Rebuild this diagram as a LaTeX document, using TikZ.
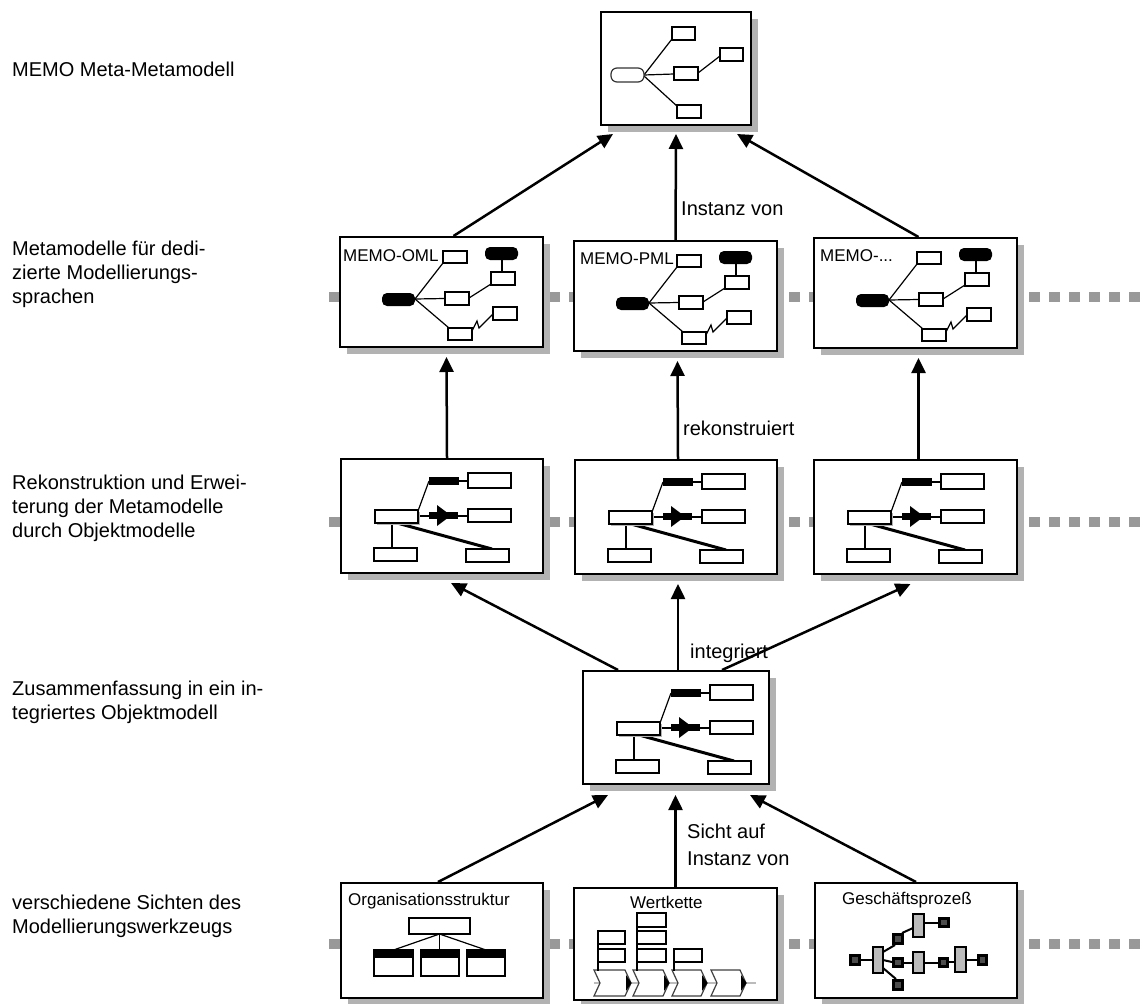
\documentclass[tikz,border=0pt]{standalone}
\usepackage{fontspec}
\setmainfont{Liberation Sans}
\usetikzlibrary{arrows.meta,shadows,calc}
\definecolor{shadowgrey}{HTML}{B2B2B2}
\definecolor{lanegrey}{HTML}{999999}
\definecolor{stepgrey}{HTML}{BBBBBB}

\tikzset{
  panel/.style={draw=black, line width=2pt, fill=white, rectangle, inner sep=0pt, anchor=north west,
    drop shadow={shadow xshift=7pt, shadow yshift=-7pt, fill=shadowgrey, opacity=1}},
  flow/.style={line width=2.5pt, -{Triangle[length=15pt,width=14pt]}},
  lane/.style={line width=10pt, draw=lanegrey, dash pattern=on 11pt off 9pt},
  sidetext/.style={font=\fontsize{20}{24}\selectfont, anchor=base west, inner sep=0pt},
  boxtitle/.style={font=\fontsize{17}{20}\selectfont, anchor=base west, inner sep=0pt},
  cell/.style={draw=black, line width=1.8pt, fill=white},
  wire/.style={line width=1.2pt},
  pill/.style={fill=black, rounded corners=5pt},
}

% metamodel pictogram (origin = upper left corner of its panel)
\newcommand\memoDiag{%
  \draw[wire] (76,63) -- (104,27);
  \draw[wire] (76,63) -- (106,62.5);
  \draw[wire] (76,63) -- (110,92);
  \draw[wire] (130,62) -- (152,48);
  \draw[wire] (163,24) -- (163,36);
  \draw[wire] (133,95) -- (138,85) -- (140,92) -- (154,78);
  \draw[cell] (104,15) rectangle (128,27);
  \fill[pill] (146,11) rectangle (179,24);
  \draw[cell] (152,36) rectangle (176,49);
  \fill[pill] (43,57) rectangle (76,70);
  \draw[cell] (106,56) rectangle (130,69);
  \draw[cell] (154,71) rectangle (178,84);
  \draw[cell] (109,92) rectangle (133,104);
}

% object model pictogram
\newcommand\objDiag{%
  \draw[wire] (78,53) -- (89,23);
  \draw[wire] (119,23) -- (128,23);
  \draw[wire] (78,58) -- (89,58);
  \draw[wire] (118,58) -- (128,58);
  \draw[line width=2pt] (52,65) -- (52,90);
  \draw[line width=3pt] (57,65) -- (152,91);
  \fill (89,19) rectangle (119,27);
  \fill (89,54) rectangle (118,61);
  \fill (97,47) -- (111,57.5) -- (97,68) -- cycle;
  \fill[shadowgrey] (37,54) rectangle (80,67);
  \draw[cell] (35,52) rectangle (78,65);
  \draw[cell] (128,15) rectangle (171,30);
  \draw[cell] (128,51) rectangle (171,64);
  \draw[cell] (34,90) rectangle (77,103);
  \draw[cell] (126,91) rectangle (169,104);
}

% one step of the value chain
\newcommand\chev[2]{%
  \draw[line width=1.2pt, draw=black!75, fill=white]
    (#1,83) -- (#2-6,83) -- (#2,96) -- (#2-6,109) -- (#1,109) -- (#1+6,96) -- cycle;
  \fill (#2-5,88) -- (#2+0.5,96) -- (#2-5,104) -- cycle;
}

\begin{document}
\begin{tikzpicture}[x=1pt,y=-1pt]
\useasboundingbox (0,0) rectangle (1147,1003);

% swim lanes behind the panels
\draw[lane] (329,297) -- (1147,297);
\draw[lane] (329,522) -- (1147,522);
\draw[lane] (329,944) -- (1147,944);

% panels
\node[panel, minimum width=150pt, minimum height=113pt] (top) at (600,11) {};
\node[panel, minimum width=203pt, minimum height=110pt] (b2l) at (339,236) {};
\node[panel, minimum width=203pt, minimum height=110pt] (b2m) at (573,240) {};
\node[panel, minimum width=203pt, minimum height=110pt] (b2r) at (813,237) {};
\node[panel, minimum width=202pt, minimum height=114pt] (b3l) at (340,458) {};
\node[panel, minimum width=202pt, minimum height=114pt] (b3m) at (574,459) {};
\node[panel, minimum width=203pt, minimum height=114pt] (b3r) at (813,459) {};
\node[panel, minimum width=186pt, minimum height=113pt] (b4) at (582,670) {};
\node[panel, minimum width=202pt, minimum height=115pt] (b5l) at (340,882) {};
\node[panel, minimum width=203pt, minimum height=112pt] (b5m) at (573,887) {};
\node[panel, minimum width=202pt, minimum height=115pt] (b5r) at (814,882) {};

% connectors
\draw[flow] ($(b2l.north)+(12,0)$) -- ($(top.south west)+(13,8)$);
\draw[flow] (b2m.north) -- ($(top.south)+(0,8)$);
\draw[flow] ($(b2r.north)+(3,0)$) -- ($(top.south east)+(-15,8)$);

\draw[flow] ($(b3l.north)+(5,0)$) -- ($(b2l.south)+(5,9)$);
\draw[flow] ($(b3m.north)+(2,0)$) -- ($(b2m.south)+(2,9)$);
\draw[flow] ($(b3r.north)+(3,0)$) -- ($(b2r.south)+(3,9)$);

\draw[flow] ($(b4.north west)+(36,0)$) -- ($(b3l.south)+(9,9)$);
\draw[flow] ($(b4.north)+(2,0)$) -- ($(b3m.south)+(2,9)$);
\draw[flow] ($(b4.north west)+(140,0)$) -- ($(b3r.south)+(-5,9)$);

\draw[flow] ($(b5l.north)+(-4,0)$) -- ($(b4.south west)+(26,10)$);
\draw[flow] (b5m.north) -- ($(b5m.north |- b4.south)+(0,10)$);
\draw[flow] (b5r.north) -- ($(b4.south east)+(-20,10)$);

% connector labels
\node[sidetext] (e1) at (681,215) {Instanz von};
\node[sidetext] (e2) at (683,435) {rekonstruiert};
\node[sidetext] (e3) at (690,658) {integriert};
\node[sidetext] (e4a) at (687,838) {Sicht auf};
\node[sidetext] (e4b) at (687,865) {Instanz von};

% level descriptions
\node[sidetext] (t0) at (12,77) {MEMO Meta-Metamodell};
\node[sidetext] (t1a) at (12,255) {Metamodelle für dedi-};
\node[sidetext] (t1b) at (12,279) {zierte Modellierungs-};
\node[sidetext] (t1c) at (12,303) {sprachen};
\node[sidetext] (t2a) at (12,489) {Rekonstruktion und Erwei-};
\node[sidetext] (t2b) at (12,513) {terung der Metamodelle};
\node[sidetext] (t2c) at (12,537) {durch Objektmodelle};
\node[sidetext] (t3a) at (12,695) {Zusammenfassung in ein in-};
\node[sidetext] (t3b) at (12,719) {tegriertes Objektmodell};
\node[sidetext] (t4a) at (12,909) {verschiedene Sichten des};
\node[sidetext] (t4b) at (12,933) {Modellierungswerkzeugs};

% meta-metamodel pictogram
\begin{scope}[shift={(600,11)}]
  \draw[wire] (44,64) -- (72,28);
  \draw[wire] (44,64) -- (74,63);
  \draw[wire] (44,65) -- (78,96);
  \draw[wire] (98,62) -- (120,45);
  \draw[line width=1.2pt, draw=black!80, fill=white, rounded corners=6pt] (11,57) rectangle (44,71);
  \draw[cell] (72,16) rectangle (95,29);
  \draw[cell] (74,56) rectangle (98,69);
  \draw[cell] (120,37) rectangle (143,50);
  \draw[cell] (77,94) rectangle (101,107);
\end{scope}

% metamodel panels
\begin{scope}[shift={(339,236)}]\memoDiag\end{scope}
\begin{scope}[shift={(573,240)}]\memoDiag\end{scope}
\begin{scope}[shift={(813,237)}]\memoDiag\end{scope}
\node[boxtitle] (n1) at (343,261) {MEMO-OML};
\node[boxtitle] (n2) at (580,264) {MEMO-PML};
\node[boxtitle] (n3) at (820,261) {MEMO-...};

% object model panels
\begin{scope}[shift={(340,458)}]\objDiag\end{scope}
\begin{scope}[shift={(574,459)}]\objDiag\end{scope}
\begin{scope}[shift={(813,459)}]\objDiag\end{scope}
\begin{scope}[shift={(582,670)}]\objDiag\end{scope}

% organisation chart
\begin{scope}[shift={(340,882)}]
  \draw[wire] (99.5,52) -- (53.5,68);
  \draw[wire] (99.5,52) -- (99.5,68);
  \draw[wire] (99.5,52) -- (146,68);
  \draw[cell] (69,36) rectangle (130,52);
  \foreach \a/\b in {34/73, 81/119, 127/165}{
    \draw[cell] (\a,68) rectangle (\b,94);
    \fill (\a,68) rectangle (\b,76);
  }
\end{scope}
\node[boxtitle] (n4) at (348,905) {Organisationsstruktur};

% value chain
\begin{scope}[shift={(573,887)}]
  \draw[line width=1.5pt, stepgrey] (21,96) -- (183,96);
  \chev{21}{58}\chev{60}{96}\chev{99}{134}\chev{138}{173}
  \draw[line width=2pt] (25,44) -- (25,84);
  \draw[line width=2pt] (64,26) -- (64,84);
  \draw[line width=2pt] (101,62) -- (101,84);
  \draw[cell] (25,44) rectangle (52,57);
  \draw[cell] (25,62) rectangle (52,75);
  \draw[cell] (64,26) rectangle (93,40);
  \draw[cell] (64,44) rectangle (93,57);
  \draw[cell] (64,62) rectangle (93,75);
  \draw[cell] (101,62) rectangle (129,75);
\end{scope}
\node[boxtitle] (n5) at (630,908) {Wertkette};

% business process
\begin{scope}[shift={(814,882)}]
  \draw[line width=2pt] (47,78) -- (59,78);
  \draw[line width=2pt] (69,70) -- (81,63);
  \draw[line width=2pt] (69,78) -- (78,80);
  \draw[line width=2pt] (69,86) -- (82,97);
  \draw[line width=2pt] (88,51) -- (99,46);
  \draw[line width=2pt] (110,41) -- (124,41);
  \draw[line width=2pt] (90,81) -- (99,81);
  \draw[line width=2pt] (110,81) -- (124,81);
  \draw[line width=2pt] (135,80) -- (141,80);
  \draw[line width=2pt] (152,78) -- (163,78);
  \foreach \a/\b/\c/\d in {35/72/47/84, 78/51/90/63, 78/75/90/86, 78/97/90/109, 124/35/136/46, 124/75/135/86, 163/72/174/84}{
    \fill (\a,\b) rectangle (\c,\d);
    \fill[black!70] (\a+3,\b+3) rectangle (\c-3,\d-3);
  }
  \foreach \a/\b/\c/\d in {59/65/69/91, 99/32/110/55, 99/70/110/91, 141/65/152/90}{
    \draw[line width=2pt, fill=stepgrey] (\a,\b) rectangle (\c,\d);
  }
\end{scope}
\node[boxtitle] (n6) at (842,904) {Geschäftsprozeß};
\end{tikzpicture}
\end{document}
